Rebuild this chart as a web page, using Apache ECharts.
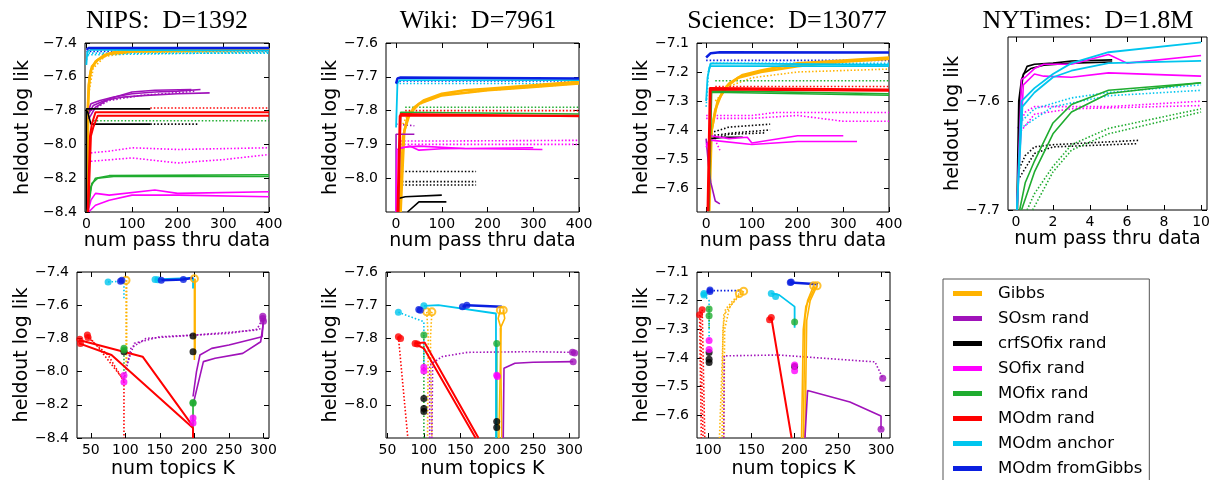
<!DOCTYPE html>
<html>
<head>
<meta charset="utf-8">
<script src="https://cdn.jsdelivr.net/npm/echarts@6/dist/echarts.min.js"></script>
<style>
  html, body { margin: 0; padding: 0; background: #fff; }
  #chart { width: 1226px; height: 480px; }
</style>
</head>
<body>
<div id="chart"></div>
<script>
var methods = ["Gibbs", "SOsm rand", "crfSOfix rand", "SOfix rand", "MOfix rand", "MOdm rand", "MOdm anchor", "MOdm fromGibbs"];
var colors = ["#ffb300", "#a012ba", "#000000", "#ff00ff", "#1fac2f", "#ff0000", "#00c5ee", "#0a1fe0"];

var titles = ["NIPS:  D=1392", "Wiki:  D=7961", "Science:  D=13077", "NYTimes:  D=1.8M"];

// tick labels
var passTicks = [0, 100, 200, 300, 400];
var nytTicks = [0, 2, 4, 6, 8, 10];
var topicTicks = [50, 100, 150, 200, 250, 300];
var sciTopicTicks = [100, 150, 200, 250, 300];
var nipsYTicks = [-8.4, -8.2, -8.0, -7.8, -7.6, -7.4];
var wikiYTicks = [-8.0, -7.9, -7.8, -7.7, -7.6];
var sciYTicks = [-7.6, -7.5, -7.4, -7.3, -7.2, -7.1];
var nytYTicks = [-7.7, -7.6];

// ---- top row: heldout log lik vs num passes ----
var nipsPassSolid = {
  "Gibbs": [
    [[2, -8.4], [3, -7.8], [5, -7.65], [10, -7.56], [20, -7.51], [40, -7.47], [60, -7.455], [100, -7.445], [200, -7.44], [400, -7.435]],
    [[3, -8.4], [4, -7.75], [7, -7.6], [12, -7.54], [25, -7.5], [50, -7.465], [100, -7.45], [400, -7.44]]
  ],
  "SOsm rand": [
    [[5, -7.8], [10, -7.76], [30, -7.74], [60, -7.72], [100, -7.7], [150, -7.69], [200, -7.685], [250, -7.675]],
    [[5, -7.82], [15, -7.77], [40, -7.74], [80, -7.72], [130, -7.71], [200, -7.7], [270, -7.695]],
    [[5, -7.85], [20, -7.78], [50, -7.73], [100, -7.69], [150, -7.68], [230, -7.675]]
  ],
  "crfSOfix rand": [
    [[0, -8.4], [0, -7.79], [140, -7.79]],
    [[2, -7.8], [10, -7.88], [140, -7.88]]
  ],
  "SOfix rand": [
    [[3, -8.4], [10, -8.33], [20, -8.29], [50, -8.3], [150, -8.27], [200, -8.29], [400, -8.28]],
    [[5, -8.4], [20, -8.36], [50, -8.33], [100, -8.3], [200, -8.3], [400, -8.31]]
  ],
  "MOfix rand": [
    [[2, -8.4], [10, -8.25], [20, -8.2], [50, -8.185], [400, -8.18]],
    [[3, -8.4], [12, -8.23], [25, -8.2], [60, -8.19], [400, -8.19]]
  ],
  "MOdm rand": [
    [[3, -8.4], [8, -7.95], [12, -7.88], [20, -7.81], [400, -7.81]],
    [[4, -8.4], [10, -7.95], [15, -7.9], [25, -7.83], [400, -7.83]]
  ],
  "MOdm anchor": [
    [[0, -7.53], [2, -7.45], [10, -7.44], [400, -7.445]]
  ],
  "MOdm fromGibbs": [
    [[0, -7.44], [5, -7.43], [400, -7.43]]
  ]
};
var nipsPassDotted = {
  "Gibbs": [[[5, -7.7], [15, -7.55], [40, -7.48], [100, -7.455], [400, -7.45]]],
  "SOsm rand": [[[10, -7.8], [50, -7.74], [120, -7.71], [240, -7.685]]],
  "crfSOfix rand": [[[140, -7.88], [245, -7.88]]],
  "SOfix rand": [
    [[10, -8.05], [50, -8.04], [100, -8.02], [200, -8.03], [400, -8.02]],
    [[10, -8.1], [100, -8.08], [200, -8.11], [300, -8.09], [400, -8.06]]
  ],
  "MOfix rand": [[[15, -7.86], [400, -7.86]]],
  "MOdm rand": [[[140, -7.785], [400, -7.785]]],
  "MOdm anchor": [[[0, -7.5], [5, -7.46], [400, -7.46]], [[3, -7.47], [400, -7.455]]],
  "MOdm fromGibbs": [[[0, -7.45], [400, -7.445]]]
};

var wikiPassSolid = {
  "Gibbs": [
    [[8, -8.1], [15, -7.88], [25, -7.82], [40, -7.79], [60, -7.77], [100, -7.75], [150, -7.74], [200, -7.735], [300, -7.725], [400, -7.715]],
    [[10, -8.1], [18, -7.86], [30, -7.81], [50, -7.78], [100, -7.755], [200, -7.74], [300, -7.73], [400, -7.72]]
  ],
  "SOsm rand": [[[0, -8.1], [0, -7.87], [40, -7.87]]],
  "crfSOfix rand": [
    [[5, -8.1], [5, -8.06], [20, -8.055], [100, -8.05]],
    [[25, -8.1], [50, -8.07], [110, -8.07]]
  ],
  "SOfix rand": [
    [[0, -8.1], [2, -7.915], [30, -7.905], [50, -7.917], [100, -7.913], [300, -7.91]],
    [[5, -7.91], [50, -7.905], [150, -7.912], [320, -7.915]]
  ],
  "MOfix rand": [[[5, -8.1], [10, -7.805], [400, -7.81]]],
  "MOdm rand": [
    [[3, -8.1], [8, -7.815], [400, -7.815]],
    [[5, -8.1], [10, -7.81], [400, -7.817]]
  ],
  "MOdm anchor": [[[0, -7.85], [3, -7.72], [8, -7.71], [400, -7.71]]],
  "MOdm fromGibbs": [[[0, -7.72], [3, -7.705], [10, -7.702], [400, -7.705]]]
};
var wikiPassDotted = {
  "Gibbs": [[[15, -7.84], [30, -7.8], [60, -7.775], [100, -7.755], [200, -7.74], [400, -7.72]]],
  "SOsm rand": [[[0, -7.84], [40, -7.845]]],
  "crfSOfix rand": [[[5, -7.98], [175, -7.98]], [[5, -8.01], [175, -8.01]], [[5, -8.02], [175, -8.02]]],
  "SOfix rand": [[[10, -7.89], [100, -7.89], [400, -7.888]], [[10, -7.9], [400, -7.9]]],
  "MOfix rand": [[[20, -7.79], [400, -7.79]]],
  "MOdm rand": [[[20, -7.8], [400, -7.8]]],
  "MOdm anchor": [[[0, -7.72], [400, -7.72]]],
  "MOdm fromGibbs": [[[0, -7.712], [400, -7.712]]]
};

var sciPassSolid = {
  "Gibbs": [
    [[5, -7.68], [10, -7.42], [20, -7.33], [35, -7.27], [50, -7.24], [80, -7.21], [120, -7.195], [200, -7.17], [300, -7.16], [400, -7.15]],
    [[7, -7.68], [12, -7.4], [25, -7.3], [45, -7.25], [70, -7.22], [120, -7.2], [200, -7.18], [300, -7.165], [400, -7.155]]
  ],
  "SOsm rand": [[[0, -7.43], [5, -7.52], [10, -7.58], [20, -7.645], [30, -7.655]]],
  "crfSOfix rand": [[[10, -7.43], [40, -7.425], [80, -7.425]]],
  "SOfix rand": [
    [[0, -7.46], [10, -7.42], [50, -7.43], [90, -7.425], [100, -7.445], [200, -7.42], [300, -7.42]],
    [[0, -7.45], [10, -7.435], [100, -7.45], [200, -7.44], [330, -7.44]]
  ],
  "MOfix rand": [[[5, -7.68], [10, -7.265], [400, -7.275]], [[6, -7.68], [12, -7.27], [400, -7.28]]],
  "MOdm rand": [[[3, -7.68], [8, -7.255], [400, -7.26]], [[5, -7.68], [10, -7.26], [400, -7.265]]],
  "MOdm anchor": [[[0, -7.3], [3, -7.22], [8, -7.18], [400, -7.18]], [[5, -7.2], [10, -7.17], [400, -7.175]]],
  "MOdm fromGibbs": [[[0, -7.15], [10, -7.135], [30, -7.132], [400, -7.133]]]
};
var sciPassDotted = {
  "Gibbs": [[[20, -7.3], [50, -7.25], [100, -7.22], [200, -7.2], [400, -7.19]]],
  "crfSOfix rand": [
    [[10, -7.41], [50, -7.39], [140, -7.38]],
    [[10, -7.42], [60, -7.41], [140, -7.4]],
    [[10, -7.43], [50, -7.415], [130, -7.41]]
  ],
  "SOfix rand": [
    [[0, -7.35], [100, -7.35], [150, -7.34], [400, -7.34]],
    [[0, -7.36], [100, -7.36], [200, -7.35], [300, -7.37], [400, -7.37]],
    [[10, -7.4], [30, -7.47]]
  ],
  "MOfix rand": [[[20, -7.23], [400, -7.23]]],
  "MOdm rand": [[[20, -7.25], [400, -7.25]]],
  "MOdm anchor": [[[0, -7.32], [5, -7.2], [10, -7.17], [400, -7.17]]],
  "MOdm fromGibbs": [[[0, -7.16], [400, -7.16]]]
};

var nytPassSolid = {
  "crfSOfix rand": [
    [[0.05, -7.7], [0.15, -7.6], [0.3, -7.58], [0.6, -7.568], [1, -7.566], [2, -7.565], [3, -7.563], [5.2, -7.562]],
    [[0.08, -7.7], [0.2, -7.6], [0.4, -7.575], [0.8, -7.57], [1.5, -7.567], [3, -7.565], [5.2, -7.564]]
  ],
  "SOfix rand": [
    [[0.05, -7.7], [0.3, -7.58], [0.5, -7.578], [1, -7.57], [1.5, -7.566], [3, -7.566], [5, -7.557], [6, -7.565], [10, -7.558]],
    [[0.05, -7.7], [0.4, -7.585], [1, -7.575], [1.5, -7.577], [3, -7.578], [5, -7.574], [10, -7.577]]
  ],
  "MOfix rand": [
    [[0.2, -7.7], [0.5, -7.675], [1, -7.655], [2, -7.62], [3, -7.603], [5, -7.59], [10, -7.583]],
    [[0.3, -7.7], [0.7, -7.68], [1, -7.665], [2, -7.63], [3, -7.61], [5, -7.593], [10, -7.583]]
  ],
  "MOdm anchor": [
    [[0.05, -7.7], [0.3, -7.6], [1, -7.588], [2, -7.575], [3, -7.565], [5, -7.555], [10, -7.546]],
    [[0.05, -7.7], [0.35, -7.605], [1, -7.592], [2, -7.578], [3, -7.572], [5, -7.565], [10, -7.563]]
  ]
};
var nytPassDotted = {
  "crfSOfix rand": [
    [[0.1, -7.665], [0.5, -7.65], [1, -7.642], [2, -7.64], [6.6, -7.636]],
    [[0.2, -7.67], [1, -7.648], [2, -7.642], [6.6, -7.639]]
  ],
  "SOfix rand": [
    [[0.1, -7.625], [0.5, -7.61], [1, -7.605], [5, -7.605], [10, -7.6]],
    [[0.15, -7.63], [1, -7.612], [3, -7.607], [10, -7.604]]
  ],
  "MOfix rand": [
    [[0.6, -7.7], [1, -7.685], [2, -7.66], [3, -7.64], [5, -7.625], [10, -7.607]],
    [[0.9, -7.7], [2, -7.665], [3, -7.645], [5, -7.63], [10, -7.61]]
  ],
  "MOdm anchor": [
    [[0.2, -7.62], [1, -7.607], [3, -7.597], [5, -7.592], [10, -7.585]],
    [[0.25, -7.625], [2, -7.605], [5, -7.595], [10, -7.59]]
  ]
};

// ---- bottom row: heldout log lik vs num topics K ----
var nipsTopicMarks = {
  "Gibbs": [[101, -7.45], [200, -7.44]],
  "SOsm rand": [[299, -7.666], [299, -7.68], [300, -7.696]],
  "crfSOfix rand": [[98, -7.88], [198, -7.785], [198, -7.88]],
  "SOfix rand": [[98, -8.023], [98, -8.063], [198, -8.28], [198, -8.31]],
  "MOfix rand": [[98, -7.86], [98, -7.87], [198, -8.186], [198, -8.19]],
  "MOdm rand": [[34, -7.805], [35, -7.83], [45, -7.78], [46, -7.795]],
  "MOdm anchor": [[75, -7.46], [143, -7.445], [147, -7.447]],
  "MOdm fromGibbs": [[93, -7.455], [95, -7.45], [152, -7.45], [184, -7.445]]
};
var nipsTopicSolid = {
  "Gibbs": [[[200, -7.44], [200, -7.93]], [[201, -7.44], [201, -7.9]]],
  "SOsm rand": [
    [[198, -8.15], [203, -8.0], [208, -7.9], [225, -7.86], [250, -7.84], [298, -7.79], [300, -7.68]],
    [[198, -8.2], [213, -7.94], [230, -7.92], [270, -7.89], [296, -7.82], [300, -7.7]]
  ],
  "MOfix rand": [[[198, -8.18], [198, -8.35]]],
  "MOdm rand": [
    [[33, -7.83], [80, -7.9], [198, -8.34], [198, -8.4]],
    [[33, -7.81], [125, -7.91], [198, -8.33]]
  ],
  "MOdm anchor": [[[143, -7.445], [198, -7.435], [198, -7.5]]],
  "MOdm fromGibbs": [[[152, -7.45], [184, -7.445], [198, -7.435]]]
};
var nipsTopicDotted = {
  "Gibbs": [[[101, -7.45], [101, -8.0]], [[102, -7.45], [102, -7.95]]],
  "SOsm rand": [
    [[98, -8.05], [108, -7.86], [130, -7.8], [200, -7.78], [290, -7.75], [299, -7.68]],
    [[103, -7.95], [113, -7.83], [150, -7.79], [250, -7.77], [299, -7.74]]
  ],
  "MOfix rand": [[[98, -7.86], [98, -8.05]]],
  "MOdm rand": [
    [[45, -7.78], [60, -7.85], [88, -8.0], [98, -8.05], [98, -8.4]],
    [[46, -7.795], [75, -7.9], [98, -8.06]]
  ],
  "MOdm anchor": [[[75, -7.46], [98, -7.455], [98, -7.56]]],
  "MOdm fromGibbs": [[[93, -7.455], [98, -7.45]]]
};

var wikiTopicMarks = {
  "Gibbs": [[104, -7.72], [111, -7.72], [205, -7.715], [209, -7.715]],
  "SOsm rand": [[304, -7.842], [307, -7.844], [305, -7.87]],
  "crfSOfix rand": [[100, -7.981], [100, -8.011], [100, -8.02], [200, -8.05], [200, -8.068]],
  "SOfix rand": [[100, -7.887], [100, -7.898], [200, -7.911], [201, -7.915]],
  "MOfix rand": [[100, -7.79], [200, -7.815]],
  "MOdm rand": [[65, -7.795], [68, -7.8], [88, -7.815], [91, -7.817]],
  "MOdm anchor": [[65, -7.721], [100, -7.702]],
  "MOdm fromGibbs": [[93, -7.713], [95, -7.715], [153, -7.705], [159, -7.7]]
};
var wikiTopicSolid = {
  "Gibbs": [
    [[205, -7.715], [202, -7.74], [206, -7.77], [203, -8.1]],
    [[209, -7.715], [211, -7.74], [205, -7.77], [207, -8.1]]
  ],
  "SOsm rand": [[[209, -8.1], [210, -7.89], [225, -7.875], [250, -7.872], [305, -7.87]]],
  "MOfix rand": [[[200, -7.815], [200, -8.1]]],
  "MOdm rand": [
    [[88, -7.815], [101, -7.812], [175, -8.1]],
    [[91, -7.82], [100, -7.83], [171, -8.1]]
  ],
  "MOdm anchor": [[[100, -7.702], [120, -7.7], [199, -7.725], [199, -8.1]]],
  "MOdm fromGibbs": [[[153, -7.705], [159, -7.7], [207, -7.705]]]
};
var wikiTopicDotted = {
  "Gibbs": [[[104, -7.72], [106, -7.8], [105, -8.1]], [[111, -7.72], [109, -7.8], [111, -8.1]]],
  "SOsm rand": [
    [[108, -8.1], [108, -7.88], [125, -7.855], [160, -7.842], [250, -7.84], [304, -7.842]],
    [[111, -8.1], [112, -7.88]]
  ],
  "MOfix rand": [[[100, -7.79], [100, -8.1]]],
  "MOdm rand": [[[65, -7.795], [78, -8.1]]],
  "MOdm anchor": [[[65, -7.721], [100, -7.75], [100, -7.9]]]
};

var sciTopicMarks = {
  "Gibbs": [[136, -7.175], [141, -7.167], [222, -7.148], [226, -7.148]],
  "SOsm rand": [[302, -7.471], [300, -7.649]],
  "crfSOfix rand": [[101, -7.381], [101, -7.405], [101, -7.416], [200, -7.43]],
  "SOfix rand": [[101, -7.339], [101, -7.371], [200, -7.425], [200, -7.445]],
  "MOfix rand": [[101, -7.229], [101, -7.253], [200, -7.275]],
  "MOdm rand": [[90, -7.249], [93, -7.232], [171, -7.267], [173, -7.259]],
  "MOdm anchor": [[95, -7.18], [95, -7.175], [173, -7.175], [178, -7.186]],
  "MOdm fromGibbs": [[102, -7.163], [102, -7.168], [195, -7.137], [196, -7.135]]
};
var sciTopicSolid = {
  "Gibbs": [
    [[222, -7.148], [215, -7.2], [212, -7.26], [210, -7.68]],
    [[226, -7.148], [218, -7.2], [214, -7.27], [212, -7.68]],
    [[224, -7.15], [213, -7.22], [210, -7.3], [208, -7.68]]
  ],
  "SOsm rand": [[[212, -7.68], [215, -7.514], [264, -7.554], [300, -7.603], [300, -7.649]]],
  "MOdm rand": [[[171, -7.267], [173, -7.259], [196.5, -7.68]]],
  "MOdm anchor": [[[173, -7.175], [182, -7.18], [200, -7.221], [200, -7.295]]],
  "MOdm fromGibbs": [[[195, -7.137], [227, -7.143]]]
};
var sciTopicDotted = {
  "Gibbs": [
    [[136, -7.175], [120, -7.23], [117, -7.3], [116, -7.68]],
    [[141, -7.167], [125, -7.22], [119, -7.3], [118, -7.68]],
    [[138, -7.17], [118, -7.25], [113, -7.68]]
  ],
  "SOsm rand": [[[118, -7.68], [118.5, -7.393], [181, -7.39], [293, -7.414], [302, -7.471]]],
  "MOfix rand": [[[101, -7.229], [101, -7.3]]],
  "MOdm rand": [[[90, -7.249], [92, -7.68]], [[93, -7.232], [96, -7.68]], [[91, -7.24], [94, -7.68]]],
  "MOdm anchor": [[[95, -7.18], [101, -7.2], [101, -7.34]]],
  "MOdm fromGibbs": [[[102, -7.165], [137, -7.165]]]
};

// layout of the seven panels: [left, top, width, height]
var panels = [
  { box: [85, 43, 184, 169], x: [-3, 400], y: [-8.4, -7.4], xt: passTicks, yt: nipsYTicks, xName: "num pass thru data", xGap: 20, yGap: 52, solid: nipsPassSolid, dotted: nipsPassDotted },
  { box: [386, 43, 193, 169], x: [-22, 400], y: [-8.1, -7.6], xt: passTicks, yt: wikiYTicks, xName: "num pass thru data", xGap: 20, yGap: 43, solid: wikiPassSolid, dotted: wikiPassDotted },
  { box: [697, 43, 192, 169], x: [-20, 400], y: [-7.683, -7.1], xt: passTicks, yt: sciYTicks, xName: "num pass thru data", xGap: 20, yGap: 43, solid: sciPassSolid, dotted: sciPassDotted },
  { box: [1008, 37, 199, 173], x: [-0.43, 10.32], y: [-7.7, -7.541], xt: nytTicks, yt: nytYTicks, xName: "num pass thru data", xGap: 20, yGap: 43, solid: nytPassSolid, dotted: nytPassDotted },
  { box: [77, 272, 192, 168], x: [30, 308], y: [-8.4, -7.4], xt: topicTicks, yt: nipsYTicks, xName: "num topics K", xGap: 22, yGap: 43, solid: nipsTopicSolid, dotted: nipsTopicDotted, marks: nipsTopicMarks },
  { box: [386, 272, 193, 168], x: [48, 313], y: [-8.1, -7.6], xt: topicTicks, yt: wikiYTicks, xName: "num topics K", xGap: 22, yGap: 43, solid: wikiTopicSolid, dotted: wikiTopicDotted, marks: wikiTopicMarks },
  { box: [697, 272, 193, 168], x: [87, 310.4], y: [-7.68, -7.1], xt: sciTopicTicks, yt: sciYTicks, xName: "num topics K", xGap: 22, yGap: 43, solid: sciTopicSolid, dotted: sciTopicDotted, marks: sciTopicMarks }
];
var titleCenters = [162, 473, 782, 1083];

var lineWidths = [2.5, 1.6, 1.6, 1.6, 1.6, 2, 1.8, 2.5];
var font = "DejaVu Sans";
var minus = function (v, d) { return v.toFixed(d).replace("-", "\u2212"); };

var myChart = echarts.init(document.getElementById("chart"));

var grids = [], xAxes = [], yAxes = [], series = [];
panels.forEach(function (p, k) {
  grids.push({
    left: p.box[0], top: p.box[1], width: p.box[2], height: p.box[3],
    show: true, borderColor: "#000", borderWidth: 1, backgroundColor: "transparent"
  });
  // main bottom/left axes with labels
  xAxes.push({
    type: "value", gridIndex: k, min: p.x[0], max: p.x[1], position: "bottom",
    name: p.xName, nameLocation: "middle", nameGap: p.xGap,
    nameTextStyle: { fontFamily: font, fontSize: 19, color: "#000" },
    axisLine: { show: false, onZero: false },
    axisTick: { inside: true, length: 5, lineStyle: { color: "#000" }, customValues: p.xt },
    axisLabel: { fontFamily: font, fontSize: 14, color: "#000", margin: 5, customValues: p.xt,
      formatter: function (v) { return minus(v, 0); } },
    splitLine: { show: false }
  });
  yAxes.push({
    type: "value", gridIndex: k, min: p.y[0], max: p.y[1], position: "left",
    name: "heldout log lik", nameLocation: "middle", nameGap: p.yGap,
    nameTextStyle: { fontFamily: font, fontSize: 19, color: "#000" },
    axisLine: { show: false, onZero: false },
    axisTick: { inside: true, length: 5, lineStyle: { color: "#000" }, customValues: p.yt },
    axisLabel: { fontFamily: font, fontSize: 14, color: "#000", margin: 8, customValues: p.yt,
      formatter: function (v) { return minus(v, 1); } },
    splitLine: { show: false }
  });
  // mirrored ticks on top/right
  xAxes.push({
    type: "value", gridIndex: k, min: p.x[0], max: p.x[1], position: "top",
    axisLine: { show: false, onZero: false },
    axisTick: { inside: true, length: 5, lineStyle: { color: "#000" }, customValues: p.xt },
    axisLabel: { show: false }, splitLine: { show: false }
  });
  yAxes.push({
    type: "value", gridIndex: k, min: p.y[0], max: p.y[1], position: "right",
    axisLine: { show: false, onZero: false },
    axisTick: { inside: true, length: 5, lineStyle: { color: "#000" }, customValues: p.yt },
    axisLabel: { show: false }, splitLine: { show: false }
  });
  var ax = 2 * k;
  var bottomRow = !!p.marks;

  function addLines(traces, dotted) {
    methods.forEach(function (m, i) {
      (traces[m] || []).forEach(function (pts) {
        var w = dotted ? 1.6 : lineWidths[i];
        if (bottomRow && !dotted && i === 0) w = 1.6;
        series.push({
          type: "line", name: m, xAxisIndex: ax, yAxisIndex: ax, data: pts,
          showSymbol: false, symbol: "none", silent: true, animation: false,
          lineStyle: { color: colors[i], width: w, type: dotted ? [1.5, 2] : "solid" },
          itemStyle: { color: colors[i] }
        });
      });
    });
  }
  addLines(p.dotted, true);
  addLines(p.solid, false);

  if (p.marks) {
    methods.forEach(function (m, i) {
      if (!p.marks[m]) return;
      var hollow = m === "Gibbs";
      series.push({
        type: "scatter", name: m, xAxisIndex: ax, yAxisIndex: ax, data: p.marks[m],
        symbol: "circle", symbolSize: 7, silent: true, animation: false, z: 5,
        itemStyle: hollow
          ? { color: "rgba(255,255,255,0)", borderColor: colors[i], borderWidth: 2 }
          : { color: colors[i] }
      });
    });
  }
});

var option = {
  backgroundColor: "#fff",
  animation: false,
  title: titles.map(function (t, i) {
    return {
      text: t, left: titleCenters[i], top: 3, textAlign: "center",
      textStyle: { fontFamily: "Liberation Serif", fontSize: 26, fontWeight: "normal", color: "#000" }
    };
  }),
  legend: {
    orient: "vertical", left: 943, top: 279, height: 320,
    padding: [6, 7, 6, 10],
    itemWidth: 29, itemHeight: 5, itemGap: 8,
    borderColor: "#555", borderWidth: 1,
    selectedMode: false,
    textStyle: { fontFamily: font, fontSize: 16.5, color: "#000", lineHeight: 17, padding: [0, 0, 0, 11] },
    data: methods.map(function (m, i) {
      return { name: m, icon: "rect", itemStyle: { color: colors[i], borderWidth: 0 } };
    })
  },
  grid: grids,
  xAxis: xAxes,
  yAxis: yAxes,
  series: series
};

myChart.setOption(option);
</script>
</body>
</html>
